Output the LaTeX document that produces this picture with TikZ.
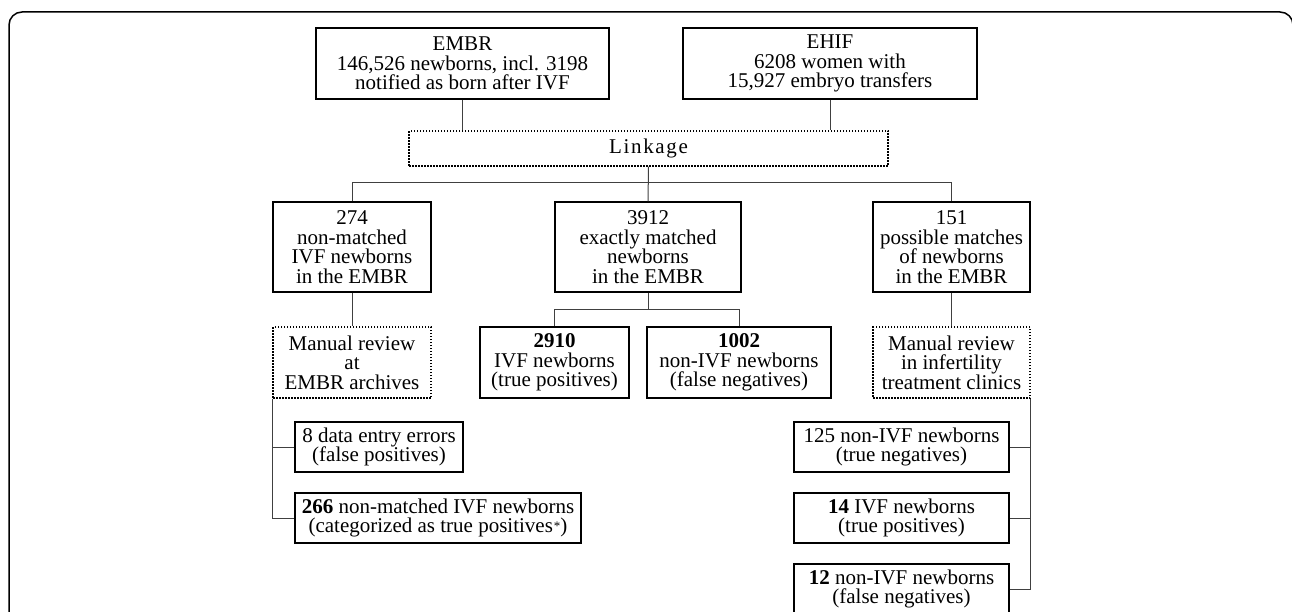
\documentclass[tikz,border=0pt]{standalone}
\usepackage{fontspec}
\setmainfont{Liberation Serif}
\newfontfamily\spacedfont[LetterSpace=8]{Liberation Serif}
\tikzset{
  box/.style={draw, line width=1.4pt, align=center, inner sep=2pt,
    font=\fontsize{21}{19.5}\selectfont},
  review/.style={box, dash pattern=on 1.5pt off 1.5pt},
  link/.style={draw=black!75, line width=1pt},
}
\begin{document}
\begin{tikzpicture}[x=1pt, y=-1pt]
  \useasboundingbox (0,0) rectangle (1292,612);
  \draw[line width=1.5pt, rounded corners=13pt] (9,680) -- (9,12) -- (1293,12) -- (1293,680);
  \node[box, minimum width=293pt, minimum height=71pt] (embr) at (462.5,63.5)
    {EMBR\\146,526 newborns, incl. 3198\\notified as born after IVF};
  \node[box, minimum width=294pt, minimum height=71pt] (ehif) at (830,63.5)
    {EHIF\\6208 women with\\15,927 embryo transfers};
  \node[review, minimum width=479pt, minimum height=35pt] (linkage) at (648.5,148.5)
    {\spacedfont Linkage};
  \node[box, minimum width=158pt, minimum height=90pt] (nonmatched) at (352,247)
    {274\\non-matched\\IVF newborns\\in the EMBR};
  \node[box, minimum width=186pt, minimum height=90pt] (exact) at (648,247)
    {3912\\exactly matched\\newborns\\in the EMBR};
  \node[box, minimum width=157pt, minimum height=90pt] (possible) at (951.5,247)
    {151\\possible matches\\of newborns\\in the EMBR};
  \node[review, minimum width=158pt, minimum height=71pt] (archives) at (352,362.5)
    {Manual review\\at\\EMBR archives};
  \node[box, minimum width=149pt, minimum height=71pt] (truepos) at (554.5,362.5)
    {\textbf{2910}\\IVF newborns\\(true positives)};
  \node[box, minimum width=184pt, minimum height=71pt] (falseneg) at (739,362.5)
    {\textbf{1002}\\non-IVF newborns\\(false negatives)};
  \node[review, minimum width=157pt, minimum height=71pt] (clinics) at (951.5,362.5)
    {Manual review\\in infertility\\treatment clinics};
  \node[box, minimum width=168pt, minimum height=50pt] (errors) at (379,447)
    {8 data entry errors\\(false positives)};
  \node[box, minimum width=286pt, minimum height=50pt] (categorized) at (438,518)
    {\textbf{266} non-matched IVF newborns\\(categorized as true positives\kern1pt\raisebox{2pt}{\fontsize{13}{13}\selectfont *})};
  \node[box, minimum width=215pt, minimum height=50pt] (trueneg) at (901.5,447)
    {125 non-IVF newborns\\(true negatives)};
  \node[box, minimum width=215pt, minimum height=50pt] (ivf14) at (901.5,518)
    {\textbf{14} IVF newborns\\(true positives)};
  \node[box, minimum width=215pt, minimum height=50pt] (nonivf12) at (901.5,589)
    {\textbf{12} non-IVF newborns\\(false negatives)};
  \coordinate (split) at (648,183);
  \coordinate (fork) at (648,309);
  \begin{scope}[link]
    \draw (embr) -- (embr.south |- linkage.north);
    \draw (ehif) -- (ehif.south |- linkage.north);
    \draw (linkage.south) -- (exact.north);
    \draw (nonmatched.north) -- (nonmatched.north |- split) -- (possible.north |- split) -- (possible.north);
    \draw (nonmatched.south) -- (archives.north);
    \draw (possible.south) -- (clinics.north);
    \draw (exact.south) -- (fork);
    \draw (truepos.north) -- (truepos.north |- fork) -- (falseneg.north |- fork) -- (falseneg.north);
    \draw (archives.south west) |- (errors.west);
    \draw (archives.south west) |- (categorized.west);
    \draw (clinics.south east) |- (trueneg.east);
    \draw (clinics.south east) |- (ivf14.east);
    \draw (clinics.south east) |- (nonivf12.east);
  \end{scope}
\end{tikzpicture}
\end{document}
